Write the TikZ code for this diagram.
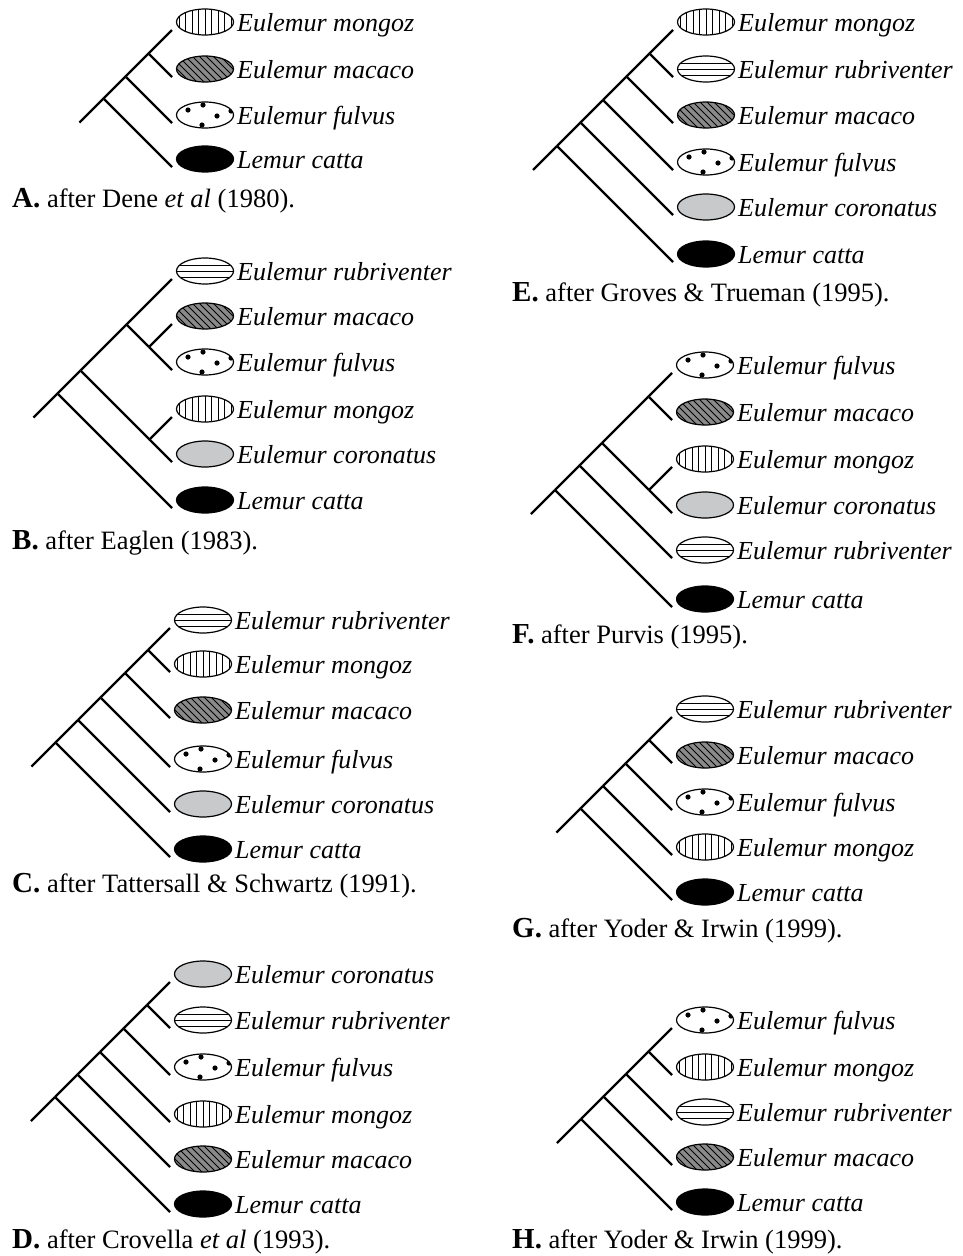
\documentclass[tikz,border=0pt]{standalone}
\usepackage{fontspec}
\setmainfont{Liberation Serif}
\usepackage{tikz}
\usetikzlibrary{shapes.geometric,calc}

\definecolor{macgray}{RGB}{138,138,138}
\definecolor{corgray}{RGB}{200,201,203}

% one leaf: tip, ellipse and name
\newcommand{\leaf}[5]{%
  \coordinate (#1) at (#2,#3);
  \node[#4] (#1e) at (#2+33,#3-8) {};
  \node[taxon] (#1l) at (#2+65,#3+1) {#5};}
\newcommand{\panel}[1]{{\fontsize{29}{30}\selectfont\bfseries #1}}

\begin{document}
\begin{tikzpicture}[x=1pt,y=-1pt,
  branch/.style={line width=2.4pt},
  taxon/.style={anchor=base west,inner sep=0pt,font=\fontsize{26}{30}\selectfont\itshape},
  caption/.style={anchor=base west,inner sep=0pt,font=\fontsize{26.5}{30}\selectfont},
  blob/.style={ellipse,draw,line width=1.2pt,inner sep=0pt,outer sep=0pt,
    minimum width=57pt,minimum height=26pt,text width=0pt,text height=0pt,text depth=0pt},
  mongoz/.style={blob,path picture={
    \foreach \i in {-4,...,4}
      \draw[line width=0.9pt] (path picture bounding box.center) ++(\i*6.5,-16) -- ++(0,32);}},
  rubri/.style={blob,path picture={
    \foreach \i in {-6,0,6}
      \draw[line width=0.9pt] (path picture bounding box.center) ++(-30,\i) -- ++(60,0);}},
  macaco/.style={blob,fill=macgray,path picture={
    \foreach \i in {-7,...,7}
      \draw[line width=0.9pt] (path picture bounding box.center) ++(\i*7-16,-16) -- ++(32,32);}},
  fulvus/.style={blob,path picture={
    \foreach \p in {(-17,-5),(-2,-10),(12,1),(26,-4),(-3,10)}
      \fill (path picture bounding box.center) ++\p circle (2.6pt);}},
  coron/.style={blob,fill=corgray},
  catta/.style={blob,fill=black}]

  \useasboundingbox (0,0) rectangle (962,1256);

  % A
  \leaf{amon}{172}{30}{mongoz}{Eulemur mongoz}
  \leaf{amac}{172}{77}{macaco}{Eulemur macaco}
  \leaf{aful}{172}{123}{fulvus}{Eulemur fulvus}
  \leaf{acat}{172}{167}{catta}{Lemur catta}
  \coordinate (an1) at (148.5,53.5);
  \coordinate (an2) at (125.5,76.5);
  \coordinate (aroot) at (103.5,98.5);
  \coordinate (astem) at (79.5,122.5);
  \path[branch] (astem) edge (aroot)
    (aroot) edge (an2) edge (acat)
    (an2) edge (an1) edge (aful)
    (an1) edge (amon) edge (amac);
  \node[caption] (capa) at (12,207) {\panel{A.} after Dene \textit{et al} (1980).};

  % B
  \leaf{brub}{172}{279}{rubri}{Eulemur rubriventer}
  \leaf{bmac}{172}{324}{macaco}{Eulemur macaco}
  \leaf{bful}{172}{370}{fulvus}{Eulemur fulvus}
  \leaf{bmon}{172}{417}{mongoz}{Eulemur mongoz}
  \leaf{bcor}{172}{462}{coron}{Eulemur coronatus}
  \leaf{bcat}{172}{508}{catta}{Lemur catta}
  \coordinate (bn1) at (149,347);
  \coordinate (bn2) at (126.5,324.5);
  \coordinate (bn3) at (149.5,439.5);
  \coordinate (bn4) at (80.5,370.5);
  \coordinate (broot) at (57.5,393.5);
  \coordinate (bstem) at (33.5,417.5);
  \path[branch] (bstem) edge (broot)
    (broot) edge (bn4) edge (bcat)
    (bn4) edge (bn2) edge (bn3)
    (bn2) edge (brub) edge (bn1)
    (bn1) edge (bmac) edge (bful)
    (bn3) edge (bmon) edge (bcor);
  \node[caption] (capb) at (12,549) {\panel{B.} after Eaglen (1983).};

  % C
  \leaf{crub}{170}{628}{rubri}{Eulemur rubriventer}
  \leaf{cmon}{170}{672}{mongoz}{Eulemur mongoz}
  \leaf{cmac}{170}{718}{macaco}{Eulemur macaco}
  \leaf{cful}{170}{767}{fulvus}{Eulemur fulvus}
  \leaf{ccor}{170}{812}{coron}{Eulemur coronatus}
  \leaf{ccat}{170}{857}{catta}{Lemur catta}
  \coordinate (cn1) at (148,650);
  \coordinate (cn2) at (125,673);
  \coordinate (cn3) at (100.5,697.5);
  \coordinate (cn4) at (78,720);
  \coordinate (croot) at (55.5,742.5);
  \coordinate (cstem) at (31.5,766.5);
  \path[branch] (cstem) edge (croot)
    (croot) edge (cn4) edge (ccat)
    (cn4) edge (cn3) edge (ccor)
    (cn3) edge (cn2) edge (cful)
    (cn2) edge (cn1) edge (cmac)
    (cn1) edge (crub) edge (cmon);
  \node[caption] (capc) at (12,892) {\panel{C.} after Tattersall \& Schwartz (1991).};

  % D
  \leaf{dcor}{170}{982}{coron}{Eulemur coronatus}
  \leaf{drub}{170}{1028}{rubri}{Eulemur rubriventer}
  \leaf{dful}{170}{1075}{fulvus}{Eulemur fulvus}
  \leaf{dmon}{170}{1122}{mongoz}{Eulemur mongoz}
  \leaf{dmac}{170}{1167}{macaco}{Eulemur macaco}
  \leaf{dcat}{170}{1212}{catta}{Lemur catta}
  \coordinate (dn1) at (147,1005);
  \coordinate (dn2) at (123.5,1028.5);
  \coordinate (dn3) at (100,1052);
  \coordinate (dn4) at (77.5,1074.5);
  \coordinate (droot) at (55,1097);
  \coordinate (dstem) at (31,1121);
  \path[branch] (dstem) edge (droot)
    (droot) edge (dn4) edge (dcat)
    (dn4) edge (dn3) edge (dmac)
    (dn3) edge (dn2) edge (dmon)
    (dn2) edge (dn1) edge (dful)
    (dn1) edge (dcor) edge (drub);
  \node[caption] (capd) at (12,1248) {\panel{D.} after Crovella \textit{et al} (1993).};

  % E
  \leaf{emon}{673}{30}{mongoz}{Eulemur mongoz}
  \leaf{erub}{673}{77}{rubri}{Eulemur rubriventer}
  \leaf{emac}{673}{123}{macaco}{Eulemur macaco}
  \leaf{eful}{673}{170}{fulvus}{Eulemur fulvus}
  \leaf{ecor}{673}{215}{coron}{Eulemur coronatus}
  \leaf{ecat}{673}{262}{catta}{Lemur catta}
  \coordinate (en1) at (649.5,53.5);
  \coordinate (en2) at (626.5,76.5);
  \coordinate (en3) at (603,100);
  \coordinate (en4) at (580.5,122.5);
  \coordinate (eroot) at (557,146);
  \coordinate (estem) at (533,170);
  \path[branch] (estem) edge (eroot)
    (eroot) edge (en4) edge (ecat)
    (en4) edge (en3) edge (ecor)
    (en3) edge (en2) edge (eful)
    (en2) edge (en1) edge (emac)
    (en1) edge (emon) edge (erub);
  \node[caption] (cape) at (512,301) {\panel{E.} after Groves \& Trueman (1995).};

  % F
  \leaf{fful}{672}{373}{fulvus}{Eulemur fulvus}
  \leaf{fmac}{672}{420}{macaco}{Eulemur macaco}
  \leaf{fmon}{672}{467}{mongoz}{Eulemur mongoz}
  \leaf{fcor}{672}{513}{coron}{Eulemur coronatus}
  \leaf{frub}{672}{558}{rubri}{Eulemur rubriventer}
  \leaf{fcat}{672}{607}{catta}{Lemur catta}
  \coordinate (fn1) at (648.5,396.5);
  \coordinate (fn2) at (649,490);
  \coordinate (fn3) at (602,443);
  \coordinate (fn4) at (579.5,465.5);
  \coordinate (froot) at (555,490);
  \coordinate (fstem) at (531,514);
  \path[branch] (fstem) edge (froot)
    (froot) edge (fn4) edge (fcat)
    (fn4) edge (fn3) edge (frub)
    (fn3) edge (fn1) edge (fn2)
    (fn1) edge (fful) edge (fmac)
    (fn2) edge (fmon) edge (fcor);
  \node[caption] (capf) at (512,643) {\panel{F.} after Purvis (1995).};

  % G
  \leaf{grub}{672}{717}{rubri}{Eulemur rubriventer}
  \leaf{gmac}{672}{763}{macaco}{Eulemur macaco}
  \leaf{gful}{672}{810}{fulvus}{Eulemur fulvus}
  \leaf{gmon}{672}{855}{mongoz}{Eulemur mongoz}
  \leaf{gcat}{672}{900}{catta}{Lemur catta}
  \coordinate (gn1) at (649,740);
  \coordinate (gn2) at (625.5,763.5);
  \coordinate (gn3) at (603,786);
  \coordinate (groot) at (580.5,808.5);
  \coordinate (gstem) at (556.5,832.5);
  \path[branch] (gstem) edge (groot)
    (groot) edge (gn3) edge (gcat)
    (gn3) edge (gn2) edge (gmon)
    (gn2) edge (gn1) edge (gful)
    (gn1) edge (grub) edge (gmac);
  \node[caption] (capg) at (512,937) {\panel{G.} after Yoder \& Irwin (1999).};

  % H
  \leaf{hful}{672}{1028}{fulvus}{Eulemur fulvus}
  \leaf{hmon}{672}{1075}{mongoz}{Eulemur mongoz}
  \leaf{hrub}{672}{1120}{rubri}{Eulemur rubriventer}
  \leaf{hmac}{672}{1165}{macaco}{Eulemur macaco}
  \leaf{hcat}{672}{1210}{catta}{Lemur catta}
  \coordinate (hn1) at (648.5,1051.5);
  \coordinate (hn2) at (626,1074);
  \coordinate (hn3) at (603.5,1096.5);
  \coordinate (hroot) at (581,1119);
  \coordinate (hstem) at (557,1143);
  \path[branch] (hstem) edge (hroot)
    (hroot) edge (hn3) edge (hcat)
    (hn3) edge (hn2) edge (hmac)
    (hn2) edge (hn1) edge (hrub)
    (hn1) edge (hful) edge (hmon);
  \node[caption] (caph) at (512,1248) {\panel{H.} after Yoder \& Irwin (1999).};

\end{tikzpicture}
\end{document}
